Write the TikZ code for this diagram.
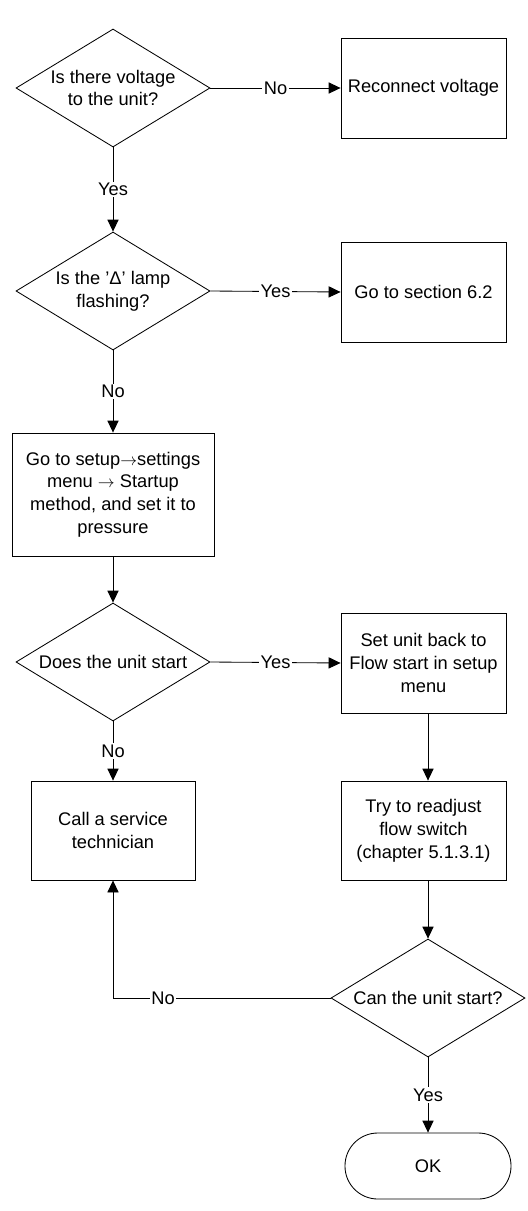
\documentclass[tikz,border=0pt]{standalone}
\usepackage{fontspec}
\setmainfont{Liberation Sans}
\usetikzlibrary{shapes.geometric,arrows.meta}

\begin{document}
\begin{tikzpicture}[
  font = \fontsize{13}{16.2}\selectfont,
  line width = .6pt,
  box/.style = {draw, align = center, inner sep = 2pt},
  test/.style = {draw, diamond, aspect = 1.64, inner sep = 0pt, minimum width = 4.85cm, minimum height = 2.95cm, align = center},
  arr/.style = {-{Triangle[length = .3cm, width = .28cm]}},
  lbl/.style = {fill = white, inner sep = 1pt}
]
\useasboundingbox (0,0) rectangle (13.2,-30.275);
\def\lx{2.825cm}
\def\rx{10.7cm}
\def\bx{10.5875cm}

\node[test] (volt) at (\lx,-2.2) {Is there voltage\\to the unit?};
\node[box, minimum width = 4.125cm, minimum height = 2.5cm] (reconnect) at (\bx,-2.2) {Reconnect voltage};

\node[test] (lamp) at (\lx,-7.275) {Is the ’Δ’ lamp\\flashing?};
\node[box, minimum width = 4.125cm, minimum height = 2.5cm] (section) at (\bx,-7.3) {Go to section 6.2};

\node[box, minimum width = 5.05cm, minimum height = 3.075cm] (setup) at (\lx,-12.3625) {Go to setup\(\rightarrow\)settings\\menu \(\rightarrow\) Startup\\method, and set it to\\pressure};

\node[test] (start) at (\lx,-16.55) {Does the unit start};
\node[box, minimum width = 4.125cm, minimum height = 2.5cm] (setback) at (\bx,-16.575) {Set unit back to\\Flow start in setup\\menu};

\node[box, minimum width = 4.1cm, minimum height = 2.475cm] (call) at (\lx,-20.7625) {Call a service\\technician};
\node[box, minimum width = 4.125cm, minimum height = 2.475cm] (readjust) at (\bx,-20.7625) {Try to readjust\\flow switch\\(chapter 5.1.3.1)};

\node[test] (canstart) at (\rx,-24.95) {Can the unit start?};
\node[draw, minimum width = 4.15cm, minimum height = 1.65cm, rounded corners = .82cm] (ok) at (\rx,-29.15) {OK};

% left column
\draw[arr] (volt.east) -- node[lbl] {No} (reconnect.west);
\draw[arr] (volt.south) -- node[lbl] {Yes} (lamp.north);
\draw[arr] (lamp.east) -- node[lbl] {Yes} (section.west);
\draw[arr] (lamp.south) -- node[lbl] {No} (setup.north);
\draw[arr] (setup.south) -- (start.north);
\draw[arr] (start.east) -- node[lbl] {Yes} (setback.west);
\draw[arr] (start.south) -- node[lbl] {No} (call.north);

% right column
\draw[arr] (setback.south -| canstart.north) -- (readjust.north -| canstart.north);
\draw[arr] (readjust.south -| canstart.north) -- (canstart.north);
\draw[arr] (canstart.south) -- node[lbl] {Yes} (ok.north);
\draw[arr] (canstart.west) -| node[lbl, pos = .385] {No} (call.south);
\end{tikzpicture}
\end{document}
